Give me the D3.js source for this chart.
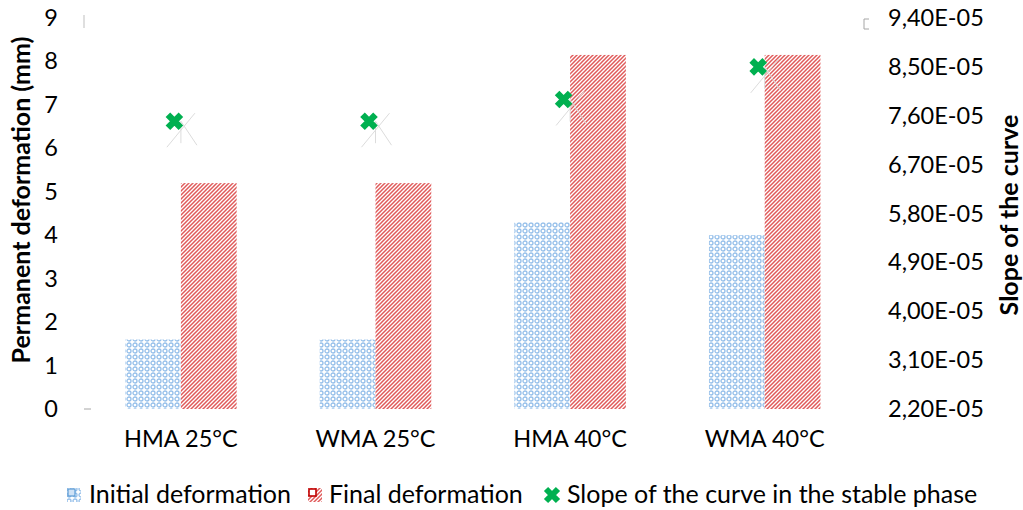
<!DOCTYPE html>
<html><head><meta charset="utf-8">
<script src="https://cdn.jsdelivr.net/npm/d3@7"></script>
<style>body{margin:0;background:#fff}svg{display:block}text{font-family:Lato,"Open Sans",sans-serif;fill:#000}</style>
</head><body><svg id="c" width="1023" height="510"></svg>
<script>
const categories = ["HMA 25°C","WMA 25°C","HMA 40°C","WMA 40°C"];
const initialDeformation = [1.6, 1.6, 4.3, 4.0];
const finalDeformation = [5.2, 5.2, 8.15, 8.15];
const slopeStable = [7.5e-5, 7.5e-5, 7.9e-5, 8.5e-5];
const leftTicks = [0,1,2,3,4,5,6,7,8,9];
const rightTicks = [2.2e-5,3.1e-5,4.0e-5,4.9e-5,5.8e-5,6.7e-5,7.6e-5,8.5e-5,9.4e-5];
const seriesNames = ["Initial deformation","Final deformation","Slope of the curve in the stable phase"];

const svg = d3.select("#c");
const defs = svg.append("defs");
const pb = defs.append("pattern").attr("id","pBlue").attr("patternUnits","userSpaceOnUse").attr("width",6).attr("height",6);
pb.append("rect").attr("width",6).attr("height",6).attr("fill","#ffffff");
pb.append("circle").attr("cx",3).attr("cy",3).attr("r",2).attr("fill","none").attr("stroke","#95bfea").attr("stroke-width",1.3);
const pr = defs.append("pattern").attr("id","pRed").attr("patternUnits","userSpaceOnUse").attr("width",4).attr("height",4);
pr.append("rect").attr("width",4).attr("height",4).attr("fill","#ffffff");
pr.append("path").attr("d","M-1,1 L1,-1 M0,4 L4,0 M3,5 L5,3").attr("stroke","#e05a5a").attr("stroke-width",1.5);

const x = d3.scaleBand().domain(categories).range([83.6, 862]).paddingInner(0).paddingOuter(0);
const xs = d3.scaleBand().domain(["i","f"]).range([0, x.bandwidth()]).paddingInner(0).paddingOuter(0.745);
const y = d3.scaleLinear().domain([0,9]).range([409,18]);
const yR = d3.scaleLinear().domain([2.2e-5,9.4e-5]).range([409,18]);

const g = svg.append("g");
g.selectAll(".bi").data(initialDeformation).join("rect")
  .attr("x",(d,i)=>x(categories[i])+xs("i")).attr("width",xs.bandwidth())
  .attr("y",d=>y(d)).attr("height",d=>y(0)-y(d)).attr("fill","url(#pBlue)");
g.selectAll(".bf").data(finalDeformation).join("rect")
  .attr("x",(d,i)=>x(categories[i])+xs("f")).attr("width",xs.bandwidth())
  .attr("y",d=>y(d)).attr("height",d=>y(0)-y(d)).attr("fill","url(#pRed)");

slopeStable.forEach((d,i)=>{
  const cx = x(categories[i]) + x.bandwidth()/2, cy = yR(d);
  svg.append("path").attr("d",`M${cx-14},${cy+26} L${cx+14},${cy-8} M${cx},${cy} L${cx},${cy+22} M${cx},${cy} L${cx+16},${cy+24}`)
    .attr("stroke","#dcdcdc").attr("stroke-width",1).attr("fill","none");
  const gx = cx - 6.5;
  svg.append("path").attr("d",`M${gx-6.5},${cy-6.5} L${gx+6.5},${cy+6.5} M${gx-6.5},${cy+6.5} L${gx+6.5},${cy-6.5}`)
    .attr("stroke","#00b050").attr("stroke-width",6.5).attr("fill","none");
});

const fs = 23.5;
const ax = svg.append("g").attr("transform","translate(58,0)")
  .call(d3.axisLeft(y).tickValues(leftTicks).tickSize(0).tickPadding(0).tickFormat(d3.format("d")));
ax.select(".domain").remove();
ax.selectAll("text").attr("font-size",fs).attr("font-family","Lato").attr("fill","#000");
const fmtR = d => d.toExponential(2).replace(".",",").replace("e-5","E-05").toUpperCase();
const ar = svg.append("g").attr("transform","translate(888,0)")
  .call(d3.axisRight(yR).tickValues(rightTicks).tickSize(0).tickPadding(0).tickFormat(fmtR));
ar.select(".domain").remove();
ar.selectAll("text").attr("font-size",fs).attr("font-family","Lato").attr("fill","#000");
const axb = svg.append("g").attr("transform","translate(0,430)")
  .call(d3.axisBottom(x).tickSize(0).tickPadding(0));
axb.select(".domain").remove();
axb.selectAll("text").attr("font-size",fs).attr("font-family","Lato").attr("fill","#000").attr("dy","0.71em");

svg.append("path").attr("d","M84,15 L84,28").attr("stroke","#bfbfbf").attr("stroke-width",1);
svg.append("path").attr("d","M869,19 L864,19 L864,29 L869,29").attr("stroke","#a6a6a6").attr("stroke-width",1).attr("fill","none");
svg.append("path").attr("d","M84,409 L91,409").attr("stroke","#a6a6a6").attr("stroke-width",1);

svg.append("text").attr("transform","translate(30,200) rotate(-90)").attr("text-anchor","middle")
  .attr("font-size",25).attr("font-weight","bold").text("Permanent deformation (mm)");
svg.append("text").attr("transform","translate(1018,215) rotate(-90)").attr("text-anchor","middle")
  .attr("font-size",25).attr("font-weight","bold").text("Slope of the curve");

const ly = 503, lfs = 25;
const lg = svg.append("g");
lg.append("rect").attr("x",67).attr("y",488).attr("width",14).attr("height",14).attr("fill","url(#pBlue)");
lg.append("rect").attr("x",68).attr("y",489).attr("width",7).attr("height",7).attr("fill","#cfe2f6").attr("stroke","#5b9bd5").attr("stroke-width",1.2);
lg.append("text").attr("x",89).attr("y",ly).attr("font-size",lfs).text(seriesNames[0]);
lg.append("rect").attr("x",308).attr("y",488).attr("width",14).attr("height",14).attr("fill","url(#pRed)");
lg.append("rect").attr("x",309).attr("y",489).attr("width",7).attr("height",7).attr("fill","#fff").attr("stroke","#c00000").attr("stroke-width",1.6);
lg.append("text").attr("x",329).attr("y",ly).attr("font-size",lfs).text(seriesNames[1]);
lg.append("path").attr("d","M546,489 L558,501 M546,501 L558,489").attr("stroke","#00b050").attr("stroke-width",6);
lg.append("text").attr("x",567).attr("y",ly).attr("font-size",lfs).text(seriesNames[2]);
</script></body></html>
